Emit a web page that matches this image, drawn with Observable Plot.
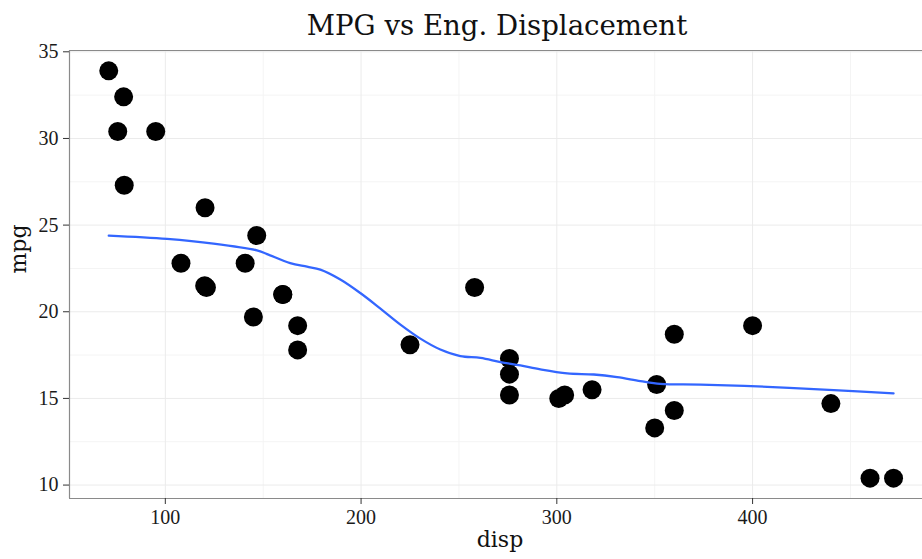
<!DOCTYPE html>
<html>
<head>
<meta charset="utf-8">
<script src="https://cdn.jsdelivr.net/npm/d3@7"></script>
<script src="https://cdn.jsdelivr.net/npm/@observablehq/plot@0.6"></script>
<style>
  html, body { margin: 0; padding: 0; background: #fff; overflow: hidden; }
  #chart svg { display: block; }
  #chart svg g[aria-label="x-axis tick label"],
  #chart svg g[aria-label="y-axis tick label"] { font-size: 20px; font-family: 'Liberation Serif', serif; }
</style>
</head>
<body>
<div id="chart"></div>
<script>
// mtcars: engine displacement vs miles per gallon
const disp = [160, 160, 108, 258, 360, 225, 360, 146.7, 140.8, 167.6, 167.6, 275.8, 275.8, 275.8, 472, 460, 440, 78.7, 75.7, 71.1, 120.1, 318, 304, 350, 400, 79, 120.3, 95.1, 351, 145, 301, 121];
const mpg = [21.0, 21.0, 22.8, 21.4, 18.7, 18.1, 14.3, 24.4, 22.8, 19.2, 17.8, 16.4, 17.3, 15.2, 10.4, 10.4, 14.7, 32.4, 30.4, 33.9, 21.5, 15.5, 15.2, 13.3, 19.2, 27.3, 26.0, 30.4, 15.8, 19.7, 15.0, 21.4];

// smoothed trend
const smoothDisp = [71.1, 100.9, 124.6, 146.8, 152, 163.8, 172.4, 179.2, 189.4, 199.6, 209.9, 220.1, 230.3, 240.5, 250.7, 261, 271.2, 281.4, 291.6, 305.3, 318.9, 330.8, 342.7, 352.9, 373.4, 407.5, 441.5, 472];
const smoothMpg = [24.39, 24.2, 23.93, 23.54, 23.33, 22.81, 22.6, 22.43, 21.86, 21.08, 20.18, 19.26, 18.45, 17.82, 17.44, 17.34, 17.1, 16.9, 16.67, 16.44, 16.38, 16.23, 16.0, 15.84, 15.8, 15.67, 15.48, 15.29];

const xTicks = [100, 200, 300, 400];
const yTicks = [10, 15, 20, 25, 30, 35];
const xMinor = [150, 250, 350, 450];
const yMinor = [12.5, 17.5, 22.5, 27.5, 32.5];

const xDomain = [51.055, 486.8];
const yDomain = [9.225, 35.075];

const points = disp.map((d, i) => ({disp: d, mpg: mpg[i]}));
const smooth = smoothDisp.map((d, i) => ({disp: d, mpg: smoothMpg[i]}));

const serif = "'DejaVu Serif', serif";

const chart = Plot.plot({
  width: 922,
  height: 559,
  marginLeft: 69,
  marginRight: 0,
  marginTop: 50,
  marginBottom: 61,
  style: {fontFamily: "'Liberation Serif', serif", background: "#fff", color: "#1a1a1a"},
  x: {domain: xDomain},
  y: {domain: yDomain},
  marks: [
    Plot.ruleX(xMinor, {stroke: "#f4f4f4", strokeWidth: 1}),
    Plot.ruleY(yMinor, {stroke: "#f4f4f4", strokeWidth: 1}),
    Plot.ruleX(xTicks, {stroke: "#ebebeb", strokeWidth: 1}),
    Plot.ruleY(yTicks, {stroke: "#ebebeb", strokeWidth: 1}),
    Plot.ruleY([yDomain[1]], {stroke: "#8a8a8a", strokeWidth: 1.2}),
    Plot.ruleY([yDomain[0]], {stroke: "#8a8a8a", strokeWidth: 1.2}),
    Plot.ruleX([xDomain[0]], {stroke: "#8a8a8a", strokeWidth: 1.2}),
    Plot.axisX({ticks: xTicks, tickSize: 6, tickPadding: 5, fontSize: 20, label: null, stroke: "#333"}),
    Plot.axisY({ticks: yTicks, tickSize: 6, tickPadding: 5, fontSize: 20, label: null, stroke: "#333"}),
    Plot.dot(points, {x: "disp", y: "mpg", r: 9.5, fill: "black", stroke: "none"}),
    Plot.line(smooth, {x: "disp", y: "mpg", stroke: "#3366FF", strokeWidth: 2.3, curve: "catmull-rom"}),
    Plot.text(["MPG vs Eng. Displacement"], {frameAnchor: "top", dy: -35, dx: 1, fontSize: 27.6, fontFamily: serif, fill: "#111"}),
    Plot.text(["disp"], {frameAnchor: "bottom", dy: 48, dx: 4, fontSize: 22, fontFamily: serif, fill: "#111"}),
    Plot.text(["mpg"], {frameAnchor: "left", dx: -51, dy: -1, rotate: -90, fontSize: 22, fontFamily: serif, fill: "#111"})
  ]
});
document.getElementById("chart").append(chart);
</script>
</body>
</html>
